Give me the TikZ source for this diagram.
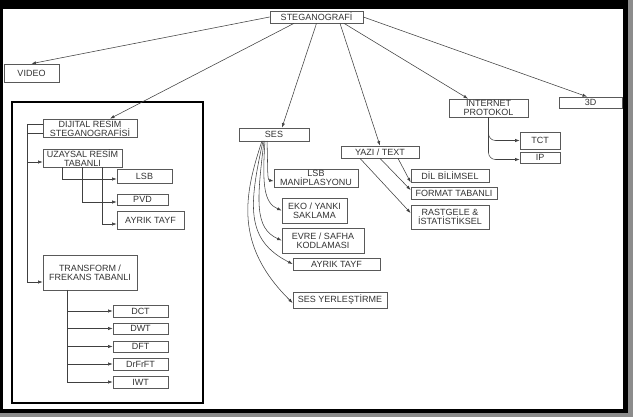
\documentclass[tikz,border=0pt]{standalone}
\usepackage{fontspec}
\setmainfont{Liberation Sans}
\usetikzlibrary{arrows.meta}
\begin{document}
\begin{tikzpicture}[x=1pt,y=-1pt,
  box/.style={draw=black!65, line width=0.7pt, fill=white, inner sep=0pt,
    align=center, text=black!80, font=\fontsize{9}{8.6}\selectfont},
  conn/.style={draw=black!75, line width=0.55pt},
  arr/.style={conn, -{Latex[length=4.5pt,width=3.2pt]}}]
% frame
\useasboundingbox (0,0) rectangle (633,417);
\fill[black!45] (0,0) rectangle (633,417);
\fill[black] (0,0) rectangle (628,413);
\fill[white] (3,9) rectangle (623,409);
\draw[black, line width=2pt] (12,102) rectangle (203,403);
% nodes
\node[box, minimum width=93pt, minimum height=12pt] (top) at (316.5,17) {STEGANOGRAFİ};
\node[box, minimum width=55pt, minimum height=18pt] (video) at (31.5,73) {VIDEO};
\node[box, minimum width=94pt, minimum height=18pt] (dij) at (90,128) {DIJITAL RESİM\\STEGANOGRAFİSİ};
\node[box, minimum width=79pt, minimum height=18pt] (uzay) at (82.5,158) {UZAYSAL RESİM\\TABANLI};
\node[box, minimum width=55pt, minimum height=14pt] (lsba) at (144.5,176) {LSB};
\node[box, minimum width=51pt, minimum height=11pt] (pvd) at (142.5,199.5) {PVD};
\node[box, minimum width=67pt, minimum height=18pt] (ayra) at (150.5,220) {AYRIK TAYF};
\node[box, minimum width=94pt, minimum height=35pt] (trans) at (90,272.5) {TRANSFORM /\\FREKANS TABANLI};
\node[box, minimum width=55pt, minimum height=12pt] (dct) at (140.5,311) {DCT};
\node[box, minimum width=55pt, minimum height=11pt] (dwt) at (140.5,328.5) {DWT};
\node[box, minimum width=55pt, minimum height=11pt] (dft) at (140.5,346.5) {DFT};
\node[box, minimum width=55pt, minimum height=12pt] (drfrft) at (140.5,364) {DrFrFT};
\node[box, minimum width=55pt, minimum height=12pt] (iwt) at (140.5,382) {IWT};
\node[box, minimum width=70pt, minimum height=13pt] (ses) at (274,134.5) {SES};
\node[box, minimum width=84pt, minimum height=18pt] (lsbm) at (316,178) {LSB\\MANİPLASYONU};
\node[box, minimum width=65pt, minimum height=25pt] (eko) at (314.5,210.5) {EKO / YANKI\\SAKLAMA};
\node[box, minimum width=82pt, minimum height=25pt] (evre) at (323,240.5) {EVRE / SAFHA\\KODLAMASI};
\node[box, minimum width=87pt, minimum height=12pt] (ayrb) at (336.5,264) {AYRIK TAYF};
\node[box, minimum width=94pt, minimum height=16pt] (sesy) at (340,300) {SES YERLEŞTİRME};
\node[box, minimum width=78pt, minimum height=12pt] (yazi) at (380,152) {YAZI / TEXT};
\node[box, minimum width=78pt, minimum height=13pt] (dil) at (450,175.5) {DİL BİLİMSEL};
\node[box, minimum width=86pt, minimum height=12pt] (format) at (454,193) {FORMAT TABANLI};
\node[box, minimum width=78pt, minimum height=24pt] (rast) at (450,217) {RASTGELE \&\\İSTATİSTİKSEL};
\node[box, minimum width=79pt, minimum height=18pt] (inet) at (488.5,108) {INTERNET\\PROTOKOL};
\node[box, minimum width=40pt, minimum height=17pt] (tct) at (540,140.5) {TCT};
\node[box, minimum width=40pt, minimum height=11pt] (ip) at (540,157.5) {IP};
\node[box, minimum width=63pt, minimum height=11pt] (d3) at (590.5,102.5) {3D};
% top-level connectors
\draw[arr] (top.west) -- (video.north);
\draw[arr] ([xshift=-22.5pt]top.south) -- ([xshift=20pt]dij.north);
\draw[arr] (top.south) -- ([xshift=8pt]ses.north);
\draw[arr] ([xshift=23.5pt]top.south) -- (yazi.north);
\draw[arr] ([xshift=27.5pt]top.south) -- ([xshift=-20.5pt]inet.north);
\draw[arr] (top.east) -- ([xshift=-3.5pt]d3.north);
% dijital resim branch
\coordinate (L1) at (27,124);
\coordinate (L2) at (27,133);
\coordinate (L3) at (27,162);
\coordinate (L4) at (27,282);
\draw[conn] (dij.west |- L1) -- (L1) -- (L4);
\draw[conn] (dij.west |- L2) -- (L2);
\draw[arr] (L3) -- (uzay.west |- L3);
\draw[arr] (L4) -- (trans.west |- L4);
\coordinate (U1) at (62,179);
\coordinate (U2) at (82,202);
\coordinate (U3) at (102,224);
\draw[arr] (uzay.south -| U1) -- (U1) -- (lsba.west |- U1);
\draw[arr] (uzay.south -| U2) -- (U2) -- (pvd.west |- U2);
\draw[arr] (uzay.south -| U3) -- (U3) -- (ayra.west |- U3);
\coordinate (T) at (67,290);
\draw[conn] (T) -- (T |- iwt.west);
\foreach \n in {dct,dwt,dft,drfrft,iwt}
  \draw[arr] (T |- \n.west) -- (\n.west);
% ses branch
\coordinate (S1) at (267,141);
\coordinate (S2) at (265,141);
\coordinate (S3) at (264,141);
\coordinate (S4) at (263,141);
\coordinate (S5) at (262,141);
\draw[arr] (S1) .. controls (268,168) and (267,180) .. ([yshift=-3pt]lsbm.west);
\draw[arr] (S2) .. controls (262,185) and (264,203) .. (eko.west);
\draw[arr] (S3) .. controls (257,200) and (254,228) .. (evre.west);
\draw[arr] (S4) .. controls (249,205) and (245,240) .. (ayrb.west);
\draw[arr] (S5) .. controls (244,195) and (234,245) .. ([yshift=-3pt]sesy.west);
% yazi branch
\draw[arr] ([xshift=18pt]yazi.south) -- (dil.south west);
\draw[arr] (yazi.south) -- ([yshift=3pt]format.west);
\draw[arr] ([xshift=-20pt]yazi.south) -- ([yshift=4pt]rast.west);
% internet branch
\draw[arr, rounded corners=7pt] (inet.south) |- (tct.west);
\draw[arr, rounded corners=7pt] (inet.south) |- ([yshift=-2pt]ip.west);
\end{tikzpicture}
\end{document}
